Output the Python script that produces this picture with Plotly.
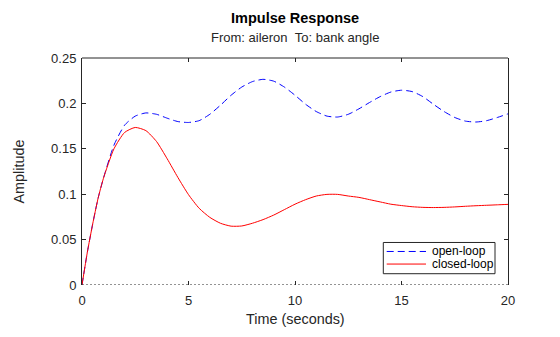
import plotly.graph_objects as go

# ---- data ----
time_s = [0, 0.25, 0.5, 0.75, 1.0, 1.5, 2.0, 2.5, 3.0, 3.5, 4.0, 4.5, 5.0, 5.5, 6.0, 6.5,
          7.0, 7.5, 8.0, 8.5, 9.0, 9.5, 10.0, 10.5, 11.0, 11.5, 12.0, 12.5, 13.0, 13.5,
          14.0, 14.5, 15.0, 15.5, 16.0, 16.5, 17.0, 17.5, 18.0, 18.5, 19.0, 19.5, 20.0]

open_loop = [0, 0.036, 0.067, 0.095, 0.117, 0.154, 0.176, 0.186, 0.1895, 0.188, 0.1837,
             0.180, 0.179, 0.181, 0.188, 0.198, 0.209, 0.218, 0.224, 0.2265, 0.2245,
             0.218, 0.209, 0.199, 0.191, 0.186, 0.185, 0.188, 0.194, 0.201, 0.2075,
             0.2125, 0.2145, 0.213, 0.2075, 0.199, 0.191, 0.1845, 0.1805, 0.1795,
             0.181, 0.1845, 0.1885]

closed_loop = [0, 0.036, 0.067, 0.095, 0.117, 0.150, 0.168, 0.1735, 0.170, 0.158, 0.139,
               0.1185, 0.0995, 0.0845, 0.0745, 0.068, 0.0648, 0.065, 0.068, 0.072, 0.077,
               0.083, 0.089, 0.094, 0.098, 0.0998, 0.0998, 0.098, 0.0965, 0.094, 0.0915,
               0.089, 0.0875, 0.0862, 0.0855, 0.0853, 0.0855, 0.086, 0.0867, 0.0873,
               0.0878, 0.0883, 0.0888]

series_names = ["open-loop", "closed-loop"]
series_colors = ["#0000ff", "#ff0000"]
series_dash = ["7px,4px", "solid"]

x_ticks = [0, 5, 10, 15, 20]
y_ticks = [0, 0.05, 0.1, 0.15, 0.2, 0.25]
y_tick_text = ["0", "0.05", "0.1", "0.15", "0.2", "0.25"]

FONT = "Liberation Sans, Arial, sans-serif"
TXT = "#262626"

fig = go.Figure()
for name, ys, col, dsh in zip(series_names, [open_loop, closed_loop], series_colors, series_dash):
    fig.add_trace(go.Scatter(x=time_s, y=ys, mode="lines", name=name, showlegend=False,
                             line=dict(color=col, width=1, dash=dsh, shape="spline",
                                       smoothing=0.6)))

# legend (drawn in paper coordinates so its compact MATLAB-style box can be matched)
leg_box = dict(x0=0.7073, x1=0.9695, y0=0.0497, y1=0.1873)
leg_rows_y = [0.1477, 0.0923]
leg_line_x = (0.7153, 0.8075)
leg_text_x = 0.8169

shapes = [
    dict(type="line", xref="paper", yref="paper", x0=0, x1=1, y0=1, y1=1,
         line=dict(color=TXT, width=1)),
    dict(type="line", xref="paper", yref="y", x0=0, x1=1, y0=0, y1=0,
         line=dict(color=TXT, width=1, dash="2px,2px")),
    dict(type="rect", xref="paper", yref="paper", fillcolor="white",
         line=dict(color=TXT, width=1), **leg_box),
]
annotations = [
    dict(text="<b>Impulse Response</b>", xref="paper", yref="paper", x=0.5, y=1,
         xanchor="center", yanchor="middle", yshift=40, showarrow=False,
         font=dict(size=14.5, color="#000000", family=FONT)),
    dict(text="From: aileron\u00a0\u00a0To: bank angle", xref="paper", yref="paper",
         x=0.5, y=1, xanchor="center", yanchor="middle", yshift=20.5, showarrow=False,
         font=dict(size=13, color=TXT, family=FONT)),
    dict(text="Time (seconds)", xref="paper", yref="paper", x=0.5, y=0, xanchor="center",
         yanchor="middle", yshift=-34, showarrow=False,
         font=dict(size=14.4, color=TXT, family=FONT)),
    dict(text="Amplitude", xref="paper", yref="paper", x=0, y=0.5, xanchor="center",
         yanchor="middle", xshift=-64, textangle=-90, showarrow=False,
         font=dict(size=14.4, color=TXT, family=FONT)),
]
for name, col, dsh, ry in zip(series_names, series_colors, series_dash, leg_rows_y):
    shapes.append(dict(type="line", xref="paper", yref="paper", x0=leg_line_x[0],
                       x1=leg_line_x[1], y0=ry, y1=ry,
                       line=dict(color=col, width=1, dash=dsh)))
    annotations.append(dict(text=name, xref="paper", yref="paper", x=leg_text_x, y=ry,
                            xanchor="left", yanchor="middle", showarrow=False,
                            font=dict(size=12, color="#000000", family=FONT)))

fig.update_layout(
    width=560, height=337,
    margin=dict(l=82, r=52, t=58, b=52),
    paper_bgcolor="white", plot_bgcolor="white",
    font=dict(family=FONT, color=TXT, size=13),
    showlegend=False,
    xaxis=dict(range=[0, 20], tickvals=x_ticks, ticks="inside", ticklen=4,
               tickcolor=TXT, showline=False, mirror="ticks",
               showgrid=False, zeroline=False, tickfont=dict(size=13, color=TXT),
               ticklabelstandoff=6),
    yaxis=dict(range=[0, 0.25], tickvals=y_ticks, ticktext=y_tick_text, ticks="inside",
               ticklen=4, tickcolor=TXT, showline=True, linecolor=TXT,
               linewidth=1, mirror="ticks", showgrid=False, zeroline=False,
               tickfont=dict(size=13, color=TXT), ticklabelstandoff=2),
    shapes=shapes,
    annotations=annotations,
)

fig.write_html("out.html")
